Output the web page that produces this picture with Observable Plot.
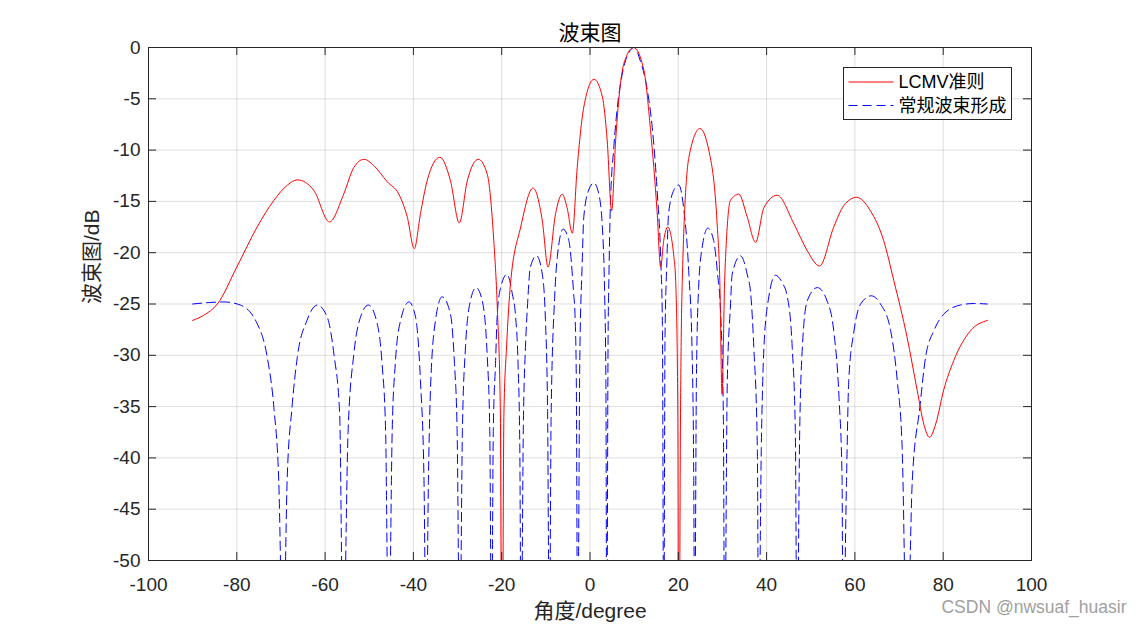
<!DOCTYPE html>
<html><head><meta charset="utf-8">
<script src="https://cdn.jsdelivr.net/npm/d3@7"></script>
<script src="https://cdn.jsdelivr.net/npm/@observablehq/plot@0.6"></script>
<style>
body{margin:0;background:#fff;}
#wrap{position:relative;width:1140px;height:630px;}
#legend{position:absolute;left:0;top:0;}
</style></head><body><div id="wrap"></div>
<script>
const titleText = "波束图";
const xLabel = "角度/degree";
const yLabel = "波束图/dB";
const watermark = "CSDN @nwsuaf_huasir";
const seriesNames = ["LCMV准则", "常规波束形成"];
const xTicks = [-100, -80, -60, -40, -20, 0, 20, 40, 60, 80, 100];
const yTicks = [-50, -45, -40, -35, -30, -25, -20, -15, -10, -5, 0];

// LCMV (red, solid)
const lcmvAngle = [-90, -87.5, -84.4, -80, -75.4, -71.6, -68.5, -66.3, -62.6, -59.0, -55.8, -53.5, -51.2, -49.0, -45.9, -43.3, -41.4, -39.8, -38.4, -36.9, -34.0, -31.6, -29.6, -27.8, -25.3, -23.3, -21.8, -21.0, -20.3, -19.95, -19.5, -18.9, -18.0, -15.7, -12.9, -10.8, -9.5, -7.8, -6.3, -5.2, -4.0, -2.9, -1.4, 0.9, 2.8, 3.9, 4.9, 5.8, 6.9, 8.3, 9.9, 12.2, 13.7, 15.2, 16.0, 16.7, 17.6, 19.0, 19.4, 19.9, 20.1, 20.5, 20.9, 22.4, 24.9, 26.9, 28.8, 29.4, 29.9, 30.5, 30.9, 31.8, 33.7, 35.6, 37.5, 39.4, 42.4, 46.2, 49.2, 52.0, 55.2, 57.5, 60.4, 63.5, 66.5, 68.8, 71.8, 74.1, 75.6, 76.9, 78.3, 80.1, 82.4, 86.2, 90];
const lcmvDB = [-26.6, -26.1, -25.0, -21.4, -17.5, -14.9, -13.4, -12.9, -13.9, -17.0, -14.3, -11.7, -10.9, -11.5, -13.1, -14.3, -16.5, -19.6, -16.2, -13.0, -10.7, -13.0, -17.1, -13.0, -10.9, -12.3, -18.8, -25.3, -35.7, -70, -35.7, -29.2, -23.0, -17.5, -13.7, -16.9, -21.4, -16.2, -14.3, -15.6, -18.1, -11.7, -5.8, -3.1, -4.8, -9.1, -15.9, -9.1, -3.5, -0.8, 0, -2.2, -8.0, -16.0, -21.4, -18.8, -17.5, -20.4, -22.7, -35.7, -70, -35.7, -22.7, -10.7, -7.9, -10.0, -17.2, -22.7, -33.8, -22.7, -18.8, -14.9, -14.3, -16.5, -19.0, -15.6, -14.4, -17.2, -19.8, -21.3, -17.5, -15.4, -14.6, -15.9, -18.8, -22.7, -28.2, -33.4, -36.7, -38.0, -36.7, -33.4, -30.5, -27.6, -26.6];

// Conventional beamforming (blue, dashed)
const cbfAngle = [-90, -86, -82.9, -79.2, -75.4, -73.1, -71.6, -70.5, -69.5, -68.6, -67.5, -66.3, -64.1, -61.8, -59.5, -58.0, -56.7, -55.9, -54.8, -53.5, -52.0, -50.2, -48.2, -47.1, -46.3, -45.6, -44.8, -44.1, -42.9, -41.0, -39.5, -38.4, -37.6, -37.1, -36.6, -36.1, -35.0, -33.5, -31.6, -30.7, -30.1, -29.5, -28.9, -28.2, -27.1, -25.8, -24.4, -23.3, -22.7, -22.3, -21.9, -21.4, -21.0, -20.3, -18.8, -17.6, -16.9, -16.3, -15.9, -15.6, -15.1, -14.6, -14.2, -13.5, -12.1, -10.8, -10.1, -9.6, -9.2, -8.8, -8.0, -7.4, -6.1, -4.8, -3.7, -3.4, -3.1, -2.8, -2.3, -1.8, -1.4, -0.3, 0.9, 2.0, 2.8, 3.3, 3.6, 3.8, 4.1, 4.3, 4.6, 5.4, 6.2, 7.3, 8.8, 10.0, 11.4, 13.0, 14.1, 15.2, 16.0, 16.4, 16.7, 17.0, 17.4, 17.8, 19.0, 20.1, 21.2, 22.4, 23.1, 23.5, 23.7, 24.1, 24.6, 25.4, 26.7, 28.0, 28.9, 29.6, 30.2, 30.5, 31.1, 31.8, 32.2, 34.1, 35.6, 36.4, 37.1, 37.9, 38.2, 38.8, 39.4, 40.5, 42.0, 43.5, 44.7, 45.8, 46.5, 46.9, 47.5, 48.1, 49.2, 51.5, 53.7, 55.2, 56.4, 57.1, 57.3, 58.1, 58.6, 59.8, 61.3, 63.7, 65.8, 68.1, 69.6, 70.7, 71.8, 73.0, 74.7, 76.0, 77.9, 80.1, 83.9, 87.0, 90];
const cbfDB = [-25.0, -24.85, -24.8, -25.1, -26.9, -30.2, -35.1, -42.2, -60, -42.2, -35.1, -30.2, -26.6, -25.1, -26.3, -29.9, -35.7, -60, -37.5, -29.9, -26.3, -25.1, -26.9, -30.8, -37.3, -60, -37.3, -30.8, -26.6, -24.8, -26.3, -32.5, -42.2, -60, -42.2, -33.0, -26.6, -24.3, -26.0, -30.8, -37.3, -60, -37.3, -29.2, -24.7, -23.4, -24.7, -29.9, -37.3, -60, -37.3, -30.8, -26.0, -23.5, -22.1, -24.0, -26.0, -30.8, -39.0, -60, -37.0, -29.0, -25.5, -21.4, -20.3, -22.1, -26.5, -35.7, -60, -35.7, -24.3, -20.4, -17.7, -18.8, -24.0, -26.0, -32.3, -60, -30.0, -21.5, -16.5, -13.9, -13.2, -14.3, -17.5, -23.7, -32.5, -60, -28.0, -22.1, -15.6, -9.7, -5.8, -2.6, -0.5, 0, -1.3, -4.2, -7.8, -13.9, -20.4, -27.0, -60, -28.0, -21.0, -16.2, -13.9, -13.4, -15.6, -22.1, -29.2, -42.2, -60, -32.5, -23.4, -19.5, -17.6, -18.8, -22.1, -26.0, -35.7, -60, -32.5, -25.3, -22.1, -20.3, -22.1, -24.0, -29.2, -39.0, -60, -39.0, -29.2, -24.3, -22.2, -22.9, -24.3, -29.2, -37.3, -60, -37.3, -29.2, -24.7, -23.4, -24.7, -27.6, -34.1, -42.2, -60, -42.2, -32.5, -27.6, -25.0, -24.2, -25.0, -27.6, -32.5, -39.0, -60, -42.2, -35.1, -30.2, -27.6, -26.0, -25.1, -24.95, -25.0];

const lcmv = lcmvAngle.map((a, i) => ({angle: a, db: lcmvDB[i]}));
const cbf = cbfAngle.map((a, i) => ({angle: a, db: cbfDB[i]}));

const W = 1140, H = 630;
const mL = 148, mR = 109, mT = 47, mB = 70;
const fw = W - mL - mR, fh = H - mT - mB;
const tk = 8;
const axisColor = "#262626";
const font = '"Liberation Sans", Arial, "Noto Sans CJK SC", sans-serif';

const chart = Plot.plot({
  width: W, height: H,
  marginLeft: mL, marginRight: mR, marginTop: mT, marginBottom: mB,
  style: {fontFamily: font, fontSize: "19px", color: axisColor, background: "white"},
  x: {domain: [-100, 100], label: null},
  y: {domain: [-50, 0], label: null},
  marks: [
    Plot.gridX(xTicks, {stroke: axisColor, strokeOpacity: 0.15}),
    Plot.gridY(yTicks, {stroke: axisColor, strokeOpacity: 0.15}),
    Plot.line(cbf, {x: "angle", y: "db", stroke: "#0000ff", strokeWidth: 1, strokeDasharray: "9,5", curve: "monotone-x", clip: true}),
    Plot.line(lcmv, {x: "angle", y: "db", stroke: "#ff0000", strokeWidth: 1, curve: "monotone-x", clip: true}),
    Plot.frame({stroke: axisColor, strokeWidth: 1}),
    Plot.tickX(xTicks, {x: d => d, stroke: axisColor, insetTop: fh - tk}),
    Plot.tickX(xTicks, {x: d => d, stroke: axisColor, insetBottom: fh - tk}),
    Plot.tickY(yTicks, {y: d => d, stroke: axisColor, insetRight: fw - tk}),
    Plot.tickY(yTicks, {y: d => d, stroke: axisColor, insetLeft: fw - tk}),
    Plot.axisX(xTicks, {tickSize: 0, tickPadding: 17, tickFormat: d => String(d), label: null, fontSize: 19, fill: axisColor}),
    Plot.axisY(yTicks, {tickSize: 0, tickPadding: 8, tickFormat: d => String(d), label: null, fontSize: 19, fill: axisColor}),
    Plot.text([titleText], {frameAnchor: "top", dy: -22, fontSize: 21, fill: "#000"}),
    Plot.text([xLabel], {frameAnchor: "bottom", dy: 57, fontSize: 21, fill: axisColor}),
    Plot.text([yLabel], {frameAnchor: "left", dx: -56, rotate: -90, fontSize: 21, fill: axisColor}),
    Plot.text([watermark], {frameAnchor: "bottom-right", dx: 95, dy: 52, textAnchor: "end", fontSize: 17.5, fill: "#a0a0a0"})
  ]
});
const wrap = document.getElementById("wrap");
wrap.appendChild(chart);

// Legend (HTML overlay)
const ns = "http://www.w3.org/2000/svg";
const lg = document.createElementNS(ns, "svg");
lg.setAttribute("id", "legend");
lg.setAttribute("width", W); lg.setAttribute("height", H);
lg.style.pointerEvents = "none";
const bx = 843.5, by = 67.5, bw = 168, bh = 52;
const rect = document.createElementNS(ns, "rect");
rect.setAttribute("x", bx); rect.setAttribute("y", by); rect.setAttribute("width", bw); rect.setAttribute("height", bh);
rect.setAttribute("fill", "white"); rect.setAttribute("stroke", axisColor); rect.setAttribute("stroke-width", 1);
lg.appendChild(rect);
const styles = [{stroke: "#ff0000", dash: null}, {stroke: "#0000ff", dash: "9,5"}];
seriesNames.forEach((name, i) => {
  const yy = by + 14.5 + i * 23.5;
  const ln = document.createElementNS(ns, "line");
  ln.setAttribute("x1", bx + 5); ln.setAttribute("x2", bx + 50);
  ln.setAttribute("y1", yy); ln.setAttribute("y2", yy);
  ln.setAttribute("stroke", styles[i].stroke); ln.setAttribute("stroke-width", 1);
  if (styles[i].dash) ln.setAttribute("stroke-dasharray", styles[i].dash);
  lg.appendChild(ln);
  const t = document.createElementNS(ns, "text");
  t.setAttribute("x", bx + 55); t.setAttribute("y", yy);
  t.setAttribute("dy", "0.35em");
  t.setAttribute("font-family", font); t.setAttribute("font-size", 18);
  t.setAttribute("fill", "#000");
  t.textContent = name;
  lg.appendChild(t);
});
wrap.appendChild(lg);
</script>
</body></html>
